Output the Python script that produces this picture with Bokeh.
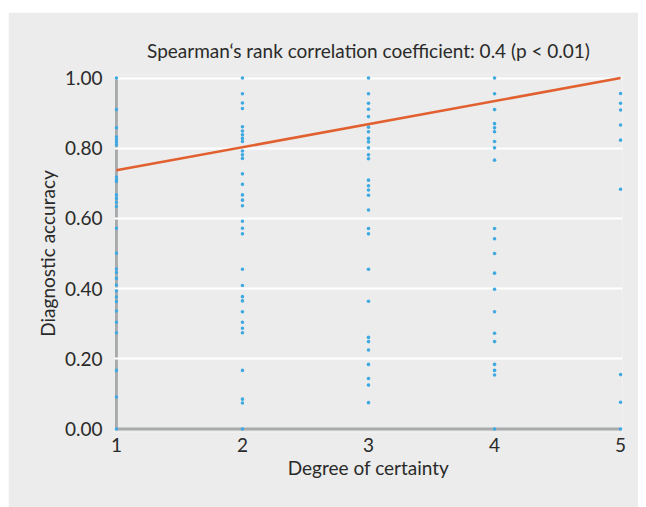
from bokeh.plotting import figure
from bokeh.models import NumeralTickFormatter, FixedTicker, Range1d, Spacer
from bokeh.layouts import column, row
from bokeh.embed import file_html
from bokeh.resources import INLINE

# ---- data ----
certainty_levels = [1, 2, 3, 4, 5]
acc_c1 = [1.00, 0.91, 0.858, 0.832, 0.824, 0.817, 0.809, 0.718, 0.710, 0.705, 0.667, 0.657,
          0.646, 0.634, 0.572, 0.501, 0.456, 0.446, 0.429, 0.410, 0.393, 0.376, 0.363, 0.336,
          0.304, 0.274, 0.167, 0.091, 0.0]
acc_c2 = [1.00, 0.955, 0.929, 0.913, 0.861, 0.849, 0.838, 0.828, 0.819, 0.792, 0.781, 0.771,
          0.727, 0.697, 0.667, 0.652, 0.636, 0.592, 0.572, 0.556, 0.455, 0.409, 0.377, 0.365,
          0.334, 0.304, 0.287, 0.274, 0.167, 0.085, 0.074, 0.0]
acc_c3 = [1.00, 0.955, 0.928, 0.911, 0.890, 0.860, 0.847, 0.828, 0.818, 0.801, 0.781, 0.770,
          0.709, 0.693, 0.681, 0.666, 0.624, 0.571, 0.556, 0.455, 0.364, 0.261, 0.249, 0.225,
          0.184, 0.144, 0.125, 0.075]
acc_c4 = [1.00, 0.955, 0.910, 0.870, 0.858, 0.847, 0.819, 0.801, 0.766, 0.571, 0.542, 0.500,
          0.444, 0.398, 0.334, 0.273, 0.249, 0.184, 0.167, 0.154, 0.0]
acc_c5 = [0.956, 0.928, 0.909, 0.866, 0.823, 0.683, 0.155, 0.076, 0.0]
fit_x = [1, 5]
fit_y = [0.737, 1.0]
y_ticks = [0.0, 0.2, 0.4, 0.6, 0.8, 1.0]
title_text = "Spearman\u2018s rank correlation coefficient: 0.4 (p < 0.01)"
x_label = "Degree of certainty"
y_label = "Diagnostic accuracy"

groups = [acc_c1, acc_c2, acc_c3, acc_c4, acc_c5]
xs, ys = [], []
for lvl, vals in zip(certainty_levels, groups):
    xs += [lvl] * len(vals)
    ys += vals

FONT = "Lato"
BG = "#EBECEB"
TXT = "#2a2a2a"

p = figure(width=630, height=495, output_backend="svg", toolbar_location=None,
           x_range=Range1d(0.985, 5.015), y_range=Range1d(-0.01, 1.01),
           min_border_left=106, min_border_right=16, min_border_top=62, min_border_bottom=75,
           background_fill_color=BG, border_fill_color=BG, outline_line_color=None)

p.title.text = title_text
p.title.align = "center"
p.title.vertical_align = "middle"
p.title.text_font = FONT
p.title.text_font_size = "19px"
p.title.text_font_style = "normal"
p.title.text_color = TXT
p.title.standoff = 24

p.xgrid.visible = False
p.ygrid.ticker = FixedTicker(ticks=y_ticks[1:])
p.ygrid.grid_line_color = "white"
p.ygrid.grid_line_width = 2

for ax in (p.xaxis, p.yaxis):
    ax.axis_line_color = None
    ax.major_tick_line_color = None
    ax.minor_tick_line_color = None
    ax.major_tick_out = 0
    ax.major_tick_in = 0
    ax.major_label_text_font = FONT
    ax.major_label_text_font_size = "19px"
    ax.major_label_text_color = TXT
    ax.axis_label_text_font = FONT
    ax.axis_label_text_font_size = "19px"
    ax.axis_label_text_font_style = "normal"
    ax.axis_label_text_color = TXT

p.xaxis.ticker = FixedTicker(ticks=certainty_levels)
p.xaxis.major_label_standoff = 5
p.xaxis.axis_label = x_label
p.xaxis.axis_label_standoff = 1
p.yaxis.ticker = FixedTicker(ticks=y_ticks)
p.yaxis.formatter = NumeralTickFormatter(format="0.00")
p.yaxis.major_label_standoff = 12
p.yaxis.axis_label = y_label
p.yaxis.axis_label_standoff = 3

# axis lines drawn beneath the points
x0 = certainty_levels[0]
x1 = certainty_levels[-1]
p.segment(x0=[x0, x0], y0=[y_ticks[0], y_ticks[0]], x1=[x0, x1], y1=[y_ticks[-1], y_ticks[0]],
          line_color="#A9AAAB", line_width=3, level="underlay")

p.scatter(xs, ys, size=3.6, fill_color="#3FA9E2", line_color=None)
p.line(fit_x, fit_y, line_color="#E2602F", line_width=2.5)

layout = column(Spacer(width=646, height=12), row(Spacer(width=8, height=495), p))
open("out.html", "w").write(file_html(layout, INLINE))
